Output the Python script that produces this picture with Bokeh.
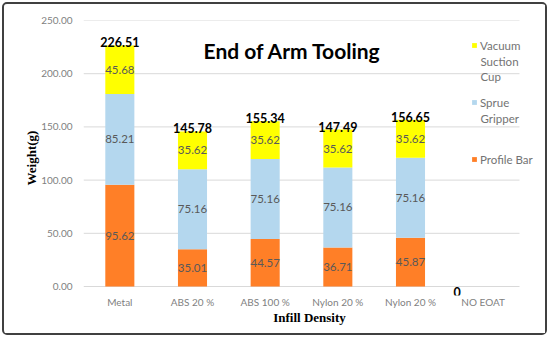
from bokeh.plotting import figure
from bokeh.layouts import column
from bokeh.models import (Range1d, FixedTicker, PrintfTickFormatter,
                          ColumnDataSource, Label, Legend, LegendItem)
from bokeh.core.properties import value
from bokeh.embed import file_html
from bokeh.resources import INLINE

# ---- data ----
categories = ["Metal", "ABS 20 %", "ABS 100 %", "Nylon 20 %", "Nylon 20 %", "NO EOAT"]
profile_bar = [95.62, 35.01, 44.57, 36.71, 45.87, 0.0]
sprue_gripper = [85.21, 75.16, 75.16, 75.16, 75.16, 0.0]
vacuum_cup = [45.68, 35.62, 35.62, 35.62, 35.62, 0.0]
totals = [226.51, 145.78, 155.34, 147.49, 156.65, 0.0]
series_names = ["Profile Bar", "Sprue Gripper", "Vacuum Suction Cup"]
y_ticks = [0, 50, 100, 150, 200, 250]

colors = ["#FF7F27", "#B4D7EE", "#FFFF00"]
FONT = "Lato"
N = len(categories)

# category slots on a linear scale (slot i centred at i + 0.5)
xc = [i + 0.5 for i in range(N)]

src = ColumnDataSource(dict(x=xc, p=profile_bar, s=sprue_gripper, v=vacuum_cup))

# extra room right of the last slot (legend) and a little below zero (the "0" label)
PX_PER_UNIT = 266 / 250
x_end = N * 452 / 436
y_start = -9 / PX_PER_UNIT
p = figure(x_range=Range1d(0, x_end), y_range=Range1d(y_start, 250),
           width=541, height=329, output_backend="svg", toolbar_location=None,
           min_border_left=79, min_border_right=10, min_border_top=16, min_border_bottom=38)
p.title.visible = False
p.outline_line_color = None
p.background_fill_color = "white"
p.border_fill_color = "white"

# gridlines across the category slots
p.segment(x0=[0] * len(y_ticks), x1=[N] * len(y_ticks), y0=y_ticks, y1=y_ticks,
          line_color="#D9D9D9", line_width=1)

renderers = p.vbar_stack(["p", "s", "v"], x="x", width=0.4, source=src,
                         color=colors, line_color=None)

# segment labels
lab_x, lab_y, lab_t = [], [], []
for i in range(N):
    base = 0.0
    for vals in (profile_bar, sprue_gripper, vacuum_cup):
        v = vals[i]
        if v > 0:
            lab_x.append(xc[i])
            lab_y.append(base + v / 2)
            lab_t.append(f"{v:.2f}")
        base += v
p.text(x=lab_x, y=lab_y, text=lab_t, text_align="center", text_baseline="middle",
       text_font=value(FONT), text_font_size="11.5px", text_color="#595959")

# totals
tx = [x for x, t in zip(xc, totals) if t > 0]
ty = [t for t in totals if t > 0]
tt = [f"{t:.2f}" for t in totals if t > 0]
p.text(x=tx, y=ty, text=tt, text_align="center", text_baseline="alphabetic", y_offset=-3,
       text_font=value(FONT), text_font_size="12.5px", text_font_style="bold", text_color="black")
zx = [x for x, t in zip(xc, totals) if t == 0]
zy = [t for t in totals if t == 0]
zt = [f"{t:.0f}" for t in totals if t == 0]
p.text(x=zx, y=zy, text=zt, text_align="center", text_baseline="top", x_offset=-26,
       text_font=value(FONT), text_font_size="12.5px", text_font_style="bold", text_color="black")

# chart title inside plot area
p.add_layout(Label(x=2.876, y=221.8, text="End of Arm Tooling", text_align="center",
                   text_baseline="middle", text_font=FONT, text_font_size="21px",
                   text_font_style="bold", text_color="black"))

# axes
p.yaxis.ticker = FixedTicker(ticks=y_ticks)
p.yaxis.formatter = PrintfTickFormatter(format="%.2f")
p.yaxis.axis_line_color = None
p.yaxis.major_tick_line_color = None
p.yaxis.minor_tick_line_color = None
p.yaxis.major_tick_out = 0
p.yaxis.major_tick_in = 0
p.yaxis.major_label_standoff = 11
p.yaxis.major_label_text_font = FONT
p.yaxis.major_label_text_font_size = "10px"
p.yaxis.major_label_text_color = "#7F7F7F"
p.yaxis.axis_label = "Weight(g)"
p.yaxis.axis_label_text_font = "Liberation Serif"
p.yaxis.axis_label_text_font_style = "bold"
p.yaxis.axis_label_text_font_size = "13px"
p.yaxis.axis_label_text_color = "black"
p.yaxis.axis_label_standoff = -1

p.xaxis.ticker = FixedTicker(ticks=xc)
p.xaxis.major_label_overrides = {x: c for x, c in zip(xc, categories)}
p.xaxis.axis_line_color = None
p.xaxis.major_tick_line_color = None
p.xaxis.minor_tick_line_color = None
p.xaxis.major_tick_out = 0
p.xaxis.major_tick_in = 0
p.xaxis.major_label_standoff = 0
p.xaxis.major_label_text_font = FONT
p.xaxis.major_label_text_font_size = "10px"
p.xaxis.major_label_text_color = "#7F7F7F"
p.xaxis.axis_label = "Infill Density"
p.xaxis.axis_label_text_font = "Liberation Serif"
p.xaxis.axis_label_text_font_style = "bold"
p.xaxis.axis_label_text_font_size = "13px"
p.xaxis.axis_label_text_color = "black"
p.xaxis.axis_label_standoff = -1

p.xgrid.grid_line_color = None
p.ygrid.grid_line_color = None

# legend: one block per series (first line beside the swatch, wrapped lines below)
legend_first = ["Vacuum", "Sprue", "Profile Bar"]
legend_rest = [["Suction", "Cup"], ["Gripper"], []]
legend_bottom = [231 + 9, 174 + 9, 117 + 9]       # px above frame bottom
legend_rest_y = [[211.5, 197.4], [157.9], []]
order = [2, 1, 0]
for k, idx in enumerate(order):
    leg = Legend(items=[LegendItem(label=legend_first[k], renderers=[renderers[idx]])],
                 location=(388, legend_bottom[k]), padding=0, margin=0,
                 border_line_color=None, background_fill_alpha=0,
                 glyph_width=6, glyph_height=6, label_standoff=3, label_height=20,
                 label_text_font=FONT, label_text_font_size="11.5px",
                 label_text_color="#737373")
    p.add_layout(leg, "center")
    for txt, yy in zip(legend_rest[k], legend_rest_y[k]):
        p.add_layout(Label(x=N * (480 - 83) / 436, y=yy, text=txt, text_baseline="middle",
                           text_font=FONT, text_font_size="11.5px", text_color="#737373"))

layout = column(p, styles={"border": "2px solid #404040", "border-radius": "5px",
                           "margin": "2px", "background": "white"})

open("out.html", "w").write(file_html(layout, INLINE))
